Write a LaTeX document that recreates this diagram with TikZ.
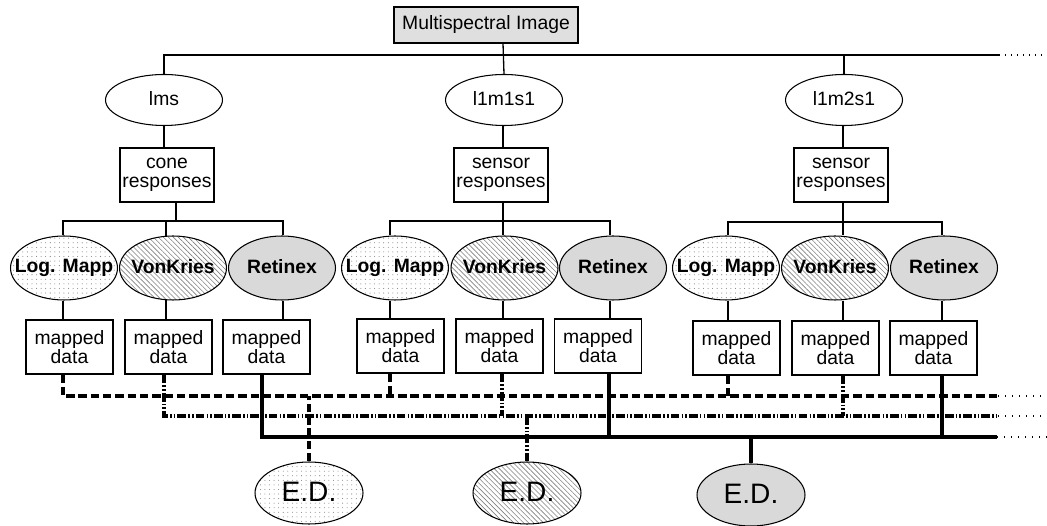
\documentclass[tikz,border=0pt]{standalone}
\usepackage{fontspec}
\setmainfont{Liberation Sans}
\usetikzlibrary{shapes.geometric,patterns.meta}
% text that does not widen its ellipse
\newcommand{\ztext}[1]{\raisebox{1.2pt}{\makebox[0pt][c]{#1}}}

\begin{document}
\begin{tikzpicture}[x=0.02cm,y=-0.02cm,
  txt/.style={font=\fontsize{11}{11}\selectfont,inner sep=0pt,align=center,line width=0.6pt},
  srcbox/.style={txt,draw,fill=gray!25,minimum width=3.68cm,minimum height=0.72cm},
  srcell/.style={txt,draw,ellipse,minimum width=2.34cm,minimum height=1.02cm},
  respbox/.style={txt,draw,minimum width=1.88cm,minimum height=1.08cm},
  algell/.style={txt,draw,ellipse,minimum width=2.14cm,minimum height=1.28cm,
                 font=\bfseries\fontsize{11}{11}\selectfont},
  mdbox/.style={txt,draw,minimum width=1.74cm,minimum height=1.08cm},
  edell/.style={draw,ellipse,inner sep=0pt,line width=0.6pt,
                minimum width=2.16cm,minimum height=1.24cm,font=\fontsize{16}{16}\selectfont},
  logfill/.style={pattern={Dots[distance=2.6pt,radius=0.3pt]},pattern color=gray},
  vkfill/.style={pattern={Lines[angle=-45,distance=2pt,line width=0.35pt]},pattern color=gray},
  retfill/.style={fill=gray!30},
  link/.style={line width=0.75pt},
  dbus/.style={line width=1.8pt,dash pattern=on 4.8pt off 2.2pt},
  ddbus/.style={line width=1.8pt,dash pattern=on 5pt off 1.2pt on 0.9pt off 1.2pt on 0.9pt off 1.2pt},
  sbus/.style={line width=1.8pt},
  tail/.style={line width=1.4pt,dash pattern=on 0.6pt off 3.4pt},
  toptail/.style={line width=0.75pt,dash pattern=on 0.6pt off 2.8pt}
]
\useasboundingbox (0,0) rectangle (1047,526);

% source image and colour spaces
\node[srcbox] (mi) at (486,25) {Multispectral Image};
\node[srcell] (lms) at (164,100) {\ztext{lms}};
\node[srcell] (s1) at (504,100) {\ztext{l1m1s1}};
\node[srcell] (s2) at (844,100) {\ztext{l1m2s1}};

\node[respbox] (r0) at (167,175) {cone\\responses};
\node[respbox] (r1) at (501,175) {sensor\\responses};
\node[respbox] (r2) at (841,175) {sensor\\responses};

% adaptation methods
\node[algell,logfill] (aL1) at (64,268) {\ztext{Log. Mapp}};
\node[algell,vkfill]  (aV1) at (173,268) {\ztext{VonKries}};
\node[algell,retfill] (aR1) at (282,268) {\ztext{Retinex}};
\node[algell,logfill] (aL2) at (395,268) {\ztext{Log. Mapp}};
\node[algell,vkfill]  (aV2) at (504.5,268) {\ztext{VonKries}};
\node[algell,retfill] (aR2) at (613,268) {\ztext{Retinex}};
\node[algell,logfill] (aL3) at (726,268) {\ztext{Log. Mapp}};
\node[algell,vkfill]  (aV3) at (835,268) {\ztext{VonKries}};
\node[algell,retfill] (aR3) at (944,268) {\ztext{Retinex}};

% mapped data
\node[mdbox] (mL1) at (69.5,347) {mapped\\data};
\node[mdbox] (mV1) at (168.5,347) {mapped\\data};
\node[mdbox] (mR1) at (266.5,347) {mapped\\data};
\node[mdbox] (mL2) at (400.5,346) {mapped\\data};
\node[mdbox] (mV2) at (499.5,346) {mapped\\data};
\node[mdbox] (mR2) at (598,346) {mapped\\data};
\node[mdbox] (mL3) at (736.5,348) {mapped\\data};
\node[mdbox] (mV3) at (835.5,348) {mapped\\data};
\node[mdbox] (mR3) at (933.5,348) {mapped\\data};

% error distances
\node[edell,logfill] (eD1) at (309,493) {\ztext{E.D.}};
\node[edell,vkfill]  (eD2) at (527,493) {\ztext{E.D.}};
\node[edell,retfill] (eD3) at (751,495) {\ztext{E.D.}};

% bus and column positions
\coordinate (tB) at (999,55);
\coordinate (tF) at (1047,55);
\coordinate (k0) at (176,221);
\coordinate (k1) at (503,221);
\coordinate (k2) at (843,222);
\coordinate (uL1) at (63,221);  \coordinate (uV1) at (166,221); \coordinate (uR1) at (283,221);
\coordinate (uL2) at (390,221); \coordinate (uV2) at (503,221); \coordinate (uR2) at (610,221);
\coordinate (uL3) at (728,222); \coordinate (uV3) at (843,222); \coordinate (uR3) at (942,222);
\coordinate (dL1) at (63,396);  \coordinate (dV1) at (164,416); \coordinate (dR1) at (262,437);
\coordinate (dL2) at (390,396); \coordinate (dV2) at (502,416); \coordinate (dR2) at (609,437);
\coordinate (dL3) at (728,396); \coordinate (dV3) at (843,416); \coordinate (dR3) at (942,437);
\coordinate (eL) at (998,396); \coordinate (fL) at (1047,396);
\coordinate (eV) at (998,416); \coordinate (fV) at (1047,416);
\coordinate (eR) at (997,437); \coordinate (fR) at (1047,437);

% top level tree
\draw[link] (mi.south -| k1) -- (s1.north);
\draw[link] (lms.north) |- (tB);
\draw[link] (s2.north) -- (s2.north |- tB);
\draw[toptail] (tB) -- (tF);

\draw[link] (lms.south) -- (lms.south |- r0.north);
\draw[link] (s1.south -| k1) -- (r1.north -| k1);
\draw[link] (s2.south -| k2) -- (r2.north -| k2);

% method branches
\draw[link] (r0.south -| k0) -- (k0);
\draw[link] (aL1.north -| uL1) |- (uR1) -- (aR1.north -| uR1);
\draw[link] (uV1) -- (aV1.north -| uV1);
\draw[link] (r1.south -| k1) -- (k1);
\draw[link] (aL2.north -| uL2) |- (uR2) -- (aR2.north -| uR2);
\draw[link] (uV2) -- (aV2.north -| uV2);
\draw[link] (r2.south -| k2) -- (k2);
\draw[link] (aL3.north -| uL3) |- (uR3) -- (aR3.north -| uR3);
\draw[link] (uV3) -- (aV3.north -| uV3);

% methods to mapped data
\foreach \c in {L1,V1,R1,L2,V2,R2,L3,V3,R3}
  \draw[link] (a\c.south -| u\c) -- (m\c.north -| u\c);

% log mapping bus
\draw[dbus] (mL1.south -| dL1) |- (eL);
\draw[dbus] (mL2.south -| dL2) -- (dL2);
\draw[dbus] (mL3.south -| dL3) -- (dL3);
\draw[dbus] (eD1.north) -- (eD1.north |- eL);
\draw[tail] (eL) -- (fL);

% von Kries bus
\draw[ddbus] (mV1.south -| dV1) |- (eV);
\draw[ddbus] (mV2.south -| dV2) -- (dV2);
\draw[ddbus] (mV3.south -| dV3) -- (dV3);
\draw[ddbus] (eD2.north) -- (eD2.north |- eV);
\draw[tail] (eV) -- (fV);

% retinex bus
\draw[sbus] (mR1.south -| dR1) |- (eR);
\draw[sbus] (mR2.south -| dR2) -- (dR2);
\draw[sbus] (mR3.south -| dR3) -- (dR3);
\draw[sbus] (eD3.north) -- (eD3.north |- eR);
\draw[tail] (eR) -- (fR);
\end{tikzpicture}
\end{document}
